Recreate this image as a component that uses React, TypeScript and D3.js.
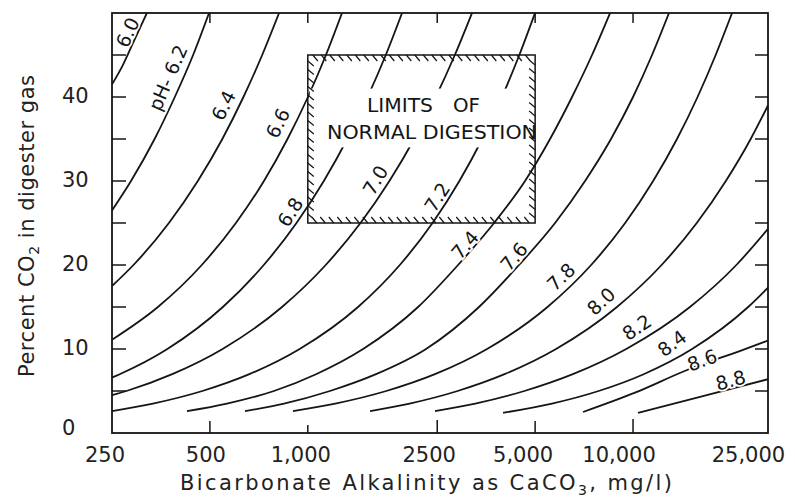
import * as d3 from "d3";

type Pt = [number, number];

// pH curves as [bicarbonate alkalinity (mg/l), % CO2]
const PH_TEXT = ["6.0", "pH- 6.2", "6.4", "6.6", "6.8", "7.0", "7.2", "7.4", "7.6", "7.8", "8.0", "8.2", "8.4", "8.6", "8.8"];

const PH_60: Pt[] = [[250, 41.5], [270, 43.8], [290, 46.4], [320, 50]];
const PH_62: Pt[] = [[250, 26.5], [286, 30], [338, 35], [390, 40], [444, 45], [497, 50]];
const PH_64: Pt[] = [[250, 17.5], [291, 20], [374, 25], [459, 30], [546, 35], [634, 40], [724, 45], [816, 50]];
const PH_66: Pt[] = [[250, 11.1], [346, 15], [472, 20], [601, 25], [733, 30], [866, 35], [1001, 40], [1137, 45], [1274, 50]];
const PH_68: Pt[] = [[250, 6.6], [264, 7], [370, 10], [548, 15], [732, 20], [923, 25], [1120, 30], [1322, 35], [1527, 40], [1737, 45], [1949, 50]];
const PH_70: Pt[] = [[250, 4.5], [277, 5], [383, 7], [547, 10], [833, 15], [1135, 20], [1452, 25], [1782, 30], [2124, 35], [2474, 40], [2832, 45], [3198, 50]];
const PH_72: Pt[] = [[250, 2.6], [334, 3.5], [474, 5], [661, 7], [944, 10], [1427, 15], [1918, 20], [2418, 25], [2925, 30], [3438, 35], [3953, 40], [4470, 45], [4995, 50]];
const PH_74: Pt[] = [[425, 2.6], [564, 3.5], [787, 5], [1060, 7], [1479, 10], [2183, 15], [2897, 20], [3738, 25], [4655, 30], [5557, 35], [6493, 40], [7480, 45], [8500, 50]];
const PH_76: Pt[] = [[641, 2.6], [845, 3.5], [1170, 5], [1621, 7], [2310, 10], [3360, 15], [4460, 20], [5758, 25], [7120, 30], [8555, 35], [10000, 40], [11440, 45], [12900, 50]];
const PH_78: Pt[] = [[900, 2.6], [1215, 3.5], [1743, 5], [2460, 7], [3558, 10], [5457, 15], [7433, 20], [9458, 25], [11530, 30], [13650, 35], [15790, 40], [17950, 45], [20160, 50]];
const PH_80: Pt[] = [[1554, 2.6], [2056, 3.5], [2888, 5], [4027, 7], [5798, 10], [8923, 15], [12240, 20], [15700, 25], [19290, 30], [23000, 35], [26000, 39]];
const PH_82: Pt[] = [[2461, 2.6], [3273, 3.5], [4635, 5], [6530, 7], [9530, 10], [14960, 15], [20780, 20], [26000, 24.3]];
const PH_84: Pt[] = [[3985, 2.4], [5633, 3.5], [7838, 5], [10780, 7], [15190, 10], [22590, 15], [26000, 17.3]];
const PH_86: Pt[] = [[7020, 2.5], [10140, 4.8], [14660, 7.5], [21790, 9.9], [26000, 11]];
const PH_88: Pt[] = [[10360, 2.4], [16070, 4.3], [26000, 6.4]];

const CURVES: Pt[][] = [PH_60, PH_62, PH_64, PH_66, PH_68, PH_70, PH_72, PH_74, PH_76, PH_78, PH_80, PH_82, PH_84, PH_86, PH_88];

// where each curve label sits
const LABEL_ALK = [279, 371, 550, 808, 882, 1610, 2495, 3040, 4300, 6000, 7970, 10260, 13170, 16300, 19950];
const LABEL_CO2 = [47.7, 42.3, 39.0, 36.9, 26.3, 30.1, 28.1, 22.4, 21.0, 18.6, 15.7, 12.6, 10.7, 8.7, 6.3];

const X_TICKS = [250, 500, 1000, 2500, 5000, 10000, 25000];
const X_TICK_TEXT = ["250", "500", "1,000", "2500", "5,000", "10,000", "25,000"];
const X_INNER_TICKS = [500, 1000, 2500, 5000, 10000];
const Y_TICKS = [0, 10, 20, 30, 40];
const Y_MINOR = [5, 10, 15, 20, 25, 30, 35, 40, 45];

// limits of normal digestion
const BOX_ALK = [1000, 5000];
const BOX_CO2 = [25, 45];

const FONT = "'DejaVu Sans', sans-serif";
const INK = "#151515";

export default function App() {
  const width = 795;
  const height = 497;
  const left = 112, right = 768, top = 13, bottom = 433;

  const x = d3.scaleLog().domain([250, 26000]).range([left, right]);
  const y = d3.scaleLinear().domain([0, 50]).range([bottom, top]);

  const line = d3
    .line<Pt>()
    .x((d) => x(d[0]))
    .y((d) => y(d[1]))
    .curve(d3.curveMonotoneX);

  // slope of the curve where the label sits, in degrees
  const angleAt = (pts: Pt[], co2: number) => {
    for (let i = 0; i < pts.length - 1; i++) {
      const a = pts[i][1], b = pts[i + 1][1];
      if ((co2 - a) * (co2 - b) <= 0) {
        const dx = x(pts[i + 1][0]) - x(pts[i][0]);
        const dy = y(b) - y(a);
        return (Math.atan2(dy, dx) * 180) / Math.PI;
      }
    }
    return -45;
  };

  // shift of the bottom labels off their tick
  const xLabelShift = [-7, -4, -7, -8, -12, -14, -14];
  const bottomTickLen = [12, 8, 13, 12, 14];

  const bx0 = x(BOX_ALK[0]), bx1 = x(BOX_ALK[1]);
  const by0 = y(BOX_CO2[1]), by1 = y(BOX_CO2[0]);
  const hatch: string[] = [];
  for (let hx = bx0 + 5; hx < bx1 - 4; hx += 8.5) {
    hatch.push(`M${hx},${by0}l5,6`);
    hatch.push(`M${hx + 4},${by1}l-5,-6`);
  }
  for (let hy = by0 + 6; hy < by1 - 3; hy += 8.5) {
    hatch.push(`M${bx0},${hy}l6,5`);
    hatch.push(`M${bx1},${hy + 4}l-6,-5`);
  }

  return (
    <svg
      width={width}
      height={height}
      style={{ position: "absolute", left: 0, top: 0, background: "#fff" }}
      fontFamily={FONT}
    >
      <defs>
        <clipPath id="plot">
          <rect x={left} y={top} width={right - left} height={bottom - top} />
        </clipPath>
      </defs>

      <g clipPath="url(#plot)" fill="none" stroke={INK} strokeWidth={1.8}>
        {CURVES.map((c, i) => (
          <path key={i} d={line(c) || ""} />
        ))}
      </g>

      {/* box: curves are blanked behind its text */}
      <rect x={bx0 + 2} y={y(41)} width={bx1 - bx0 - 4} height={y(34) - y(41)} fill="#fff" />
      <rect x={bx0} y={by0} width={bx1 - bx0} height={by1 - by0} fill="none" stroke={INK} strokeWidth={1.5} />
      <path d={hatch.join("")} stroke={INK} strokeWidth={1.2} fill="none" />
      <text x={367} y={112} fontSize={19} fill={INK} textLength={66} lengthAdjust="spacingAndGlyphs">LIMITS</text>
      <text x={453} y={112} fontSize={19} fill={INK} textLength={27} lengthAdjust="spacingAndGlyphs">OF</text>
      <text x={327} y={139} fontSize={19} fill={INK} textLength={210} lengthAdjust="spacingAndGlyphs">NORMAL DIGESTION</text>

      {/* curve labels */}
      {PH_TEXT.map((t, i) => {
        const lx = x(LABEL_ALK[i]);
        const ly = y(LABEL_CO2[i]);
        const a = angleAt(CURVES[i], LABEL_CO2[i]);
        return (
          <text
            key={t}
            transform={`translate(${lx},${ly}) rotate(${a})`}
            textAnchor="middle"
            dominantBaseline="central"
            fontSize={19}
            fill={INK}
            stroke="#fff"
            strokeWidth={3.5}
            paintOrder="stroke"
          >
            {t}
          </text>
        );
      })}

      {/* frame and ticks */}
      <rect x={left} y={top} width={right - left} height={bottom - top} fill="none" stroke={INK} strokeWidth={1.8} />
      <g stroke={INK} strokeWidth={1.5}>
        {Y_MINOR.map((v) => (
          <line key={"l" + v} x1={left} x2={left + 14} y1={y(v)} y2={y(v)} />
        ))}
        {Y_MINOR.map((v) => (
          <line key={"r" + v} x1={right} x2={right - 13} y1={y(v)} y2={y(v)} />
        ))}
        {X_INNER_TICKS.map((v, i) => (
          <line key={"b" + v} x1={x(v)} x2={x(v)} y1={bottom} y2={bottom - bottomTickLen[i]} />
        ))}
        {X_INNER_TICKS.map((v) => (
          <line key={"t" + v} x1={x(v)} x2={x(v)} y1={top} y2={top + 10} />
        ))}
      </g>

      <g fontSize={21} fill="#222">
        {X_TICKS.map((v, i) => (
          <text key={v} x={x(v) + xLabelShift[i]} y={462} textAnchor="middle">
            {X_TICK_TEXT[i]}
          </text>
        ))}
        {Y_TICKS.map((v) => (
          <text key={v} x={62} y={v === 0 ? y(v) - 5 : y(v) - 1} dominantBaseline="central">
            {v}
          </text>
        ))}
      </g>

      <text x={180} y={490} fontSize={21} fill="#222" textLength={492} lengthAdjust="spacing">
        Bicarbonate Alkalinity as CaCO
        <tspan fontSize={14} dy={5}>3</tspan>
        <tspan dy={-5}>, mg/l)</tspan>
      </text>
      <text transform="translate(34,377) rotate(-90)" fontSize={21} fill="#222" textLength={302} lengthAdjust="spacing">
        Percent CO
        <tspan fontSize={14} dy={5}>2</tspan>
        <tspan dy={-5}> in digester gas</tspan>
      </text>
    </svg>
  );
}
